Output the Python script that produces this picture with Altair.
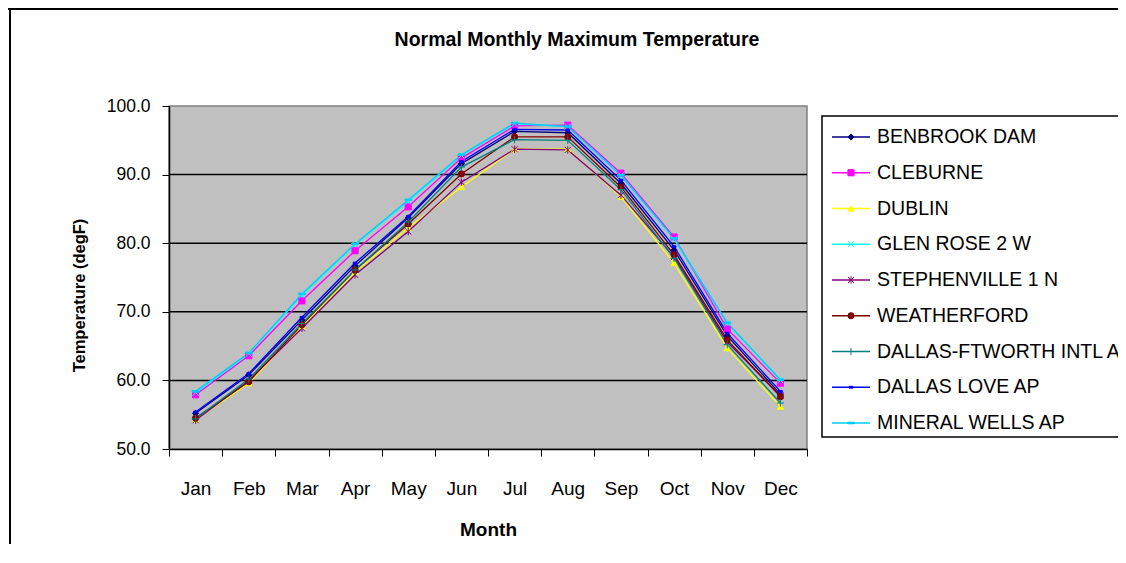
import altair as alt
import pandas as pd

TITLE = "Normal Monthly Maximum Temperature"
months = ["Jan", "Feb", "Mar", "Apr", "May", "Jun", "Jul", "Aug", "Sep", "Oct", "Nov", "Dec"]
stations = [
    "BENBROOK DAM", "CLEBURNE", "DUBLIN", "GLEN ROSE 2 W", "STEPHENVILLE 1 N",
    "WEATHERFORD", "DALLAS-FTWORTH INTL AP", "DALLAS LOVE AP", "MINERAL WELLS AP",
]
benbrook = [55.2, 60.8, 68.8, 76.7, 83.7, 91.6, 96.3, 96.1, 88.7, 79.0, 66.5, 58.0]
cleburne = [57.9, 63.6, 71.6, 78.9, 85.3, 92.4, 97.1, 97.2, 90.2, 80.9, 67.5, 59.6]
dublin = [54.3, 59.6, 67.9, 75.8, 82.2, 88.2, 93.7, 93.7, 86.8, 77.1, 64.7, 56.2]
glen_rose = [58.2, 63.9, 72.4, 79.8, 86.1, 92.8, 97.4, 97.0, 89.9, 80.6, 68.3, 60.0]
stephenville = [54.2, 60.0, 67.6, 75.4, 81.7, 88.9, 93.7, 93.6, 87.0, 78.0, 65.6, 57.8]
weatherford = [54.5, 59.8, 68.1, 76.1, 82.8, 90.1, 95.5, 95.5, 88.2, 78.3, 65.9, 57.6]
dfw = [54.4, 60.2, 68.3, 76.1, 83.1, 91.1, 95.1, 95.0, 87.8, 77.8, 65.2, 56.7]
love = [55.4, 61.0, 69.2, 77.1, 83.9, 91.9, 96.6, 96.5, 89.2, 79.5, 66.9, 58.4]
mineral_wells = [58.4, 64.0, 72.6, 79.9, 86.3, 92.9, 97.5, 97.0, 89.9, 80.7, 68.4, 60.1]
series = [benbrook, cleburne, dublin, glen_rose, stephenville, weatherford, dfw, love, mineral_wells]
colors = ["#000080", "#FF00FF", "#FFFF00", "#00FFFF", "#800080", "#800000", "#008080", "#0000FF", "#00CCFF"]
shapes = [
    "diamond", "square", "triangle-up",
    "M-1,-1L1,1M-1,1L1,-1",
    "M-1,-1L1,1M-1,1L1,-1M0,-1.2L0,1.2",
    "circle",
    "M-1.2,0L1.2,0M0,-1.2L0,1.2",
    "M-0.6,-0.3H0.6V0.3H-0.6Z",
    "M-1.1,-0.25H1.1V0.25H-1.1Z",
]
y_ticks = [50, 60, 70, 80, 90, 100]
grid_vals = [60, 70, 80, 90]

rows = []
for s, vals in zip(stations, series):
    for m, v in zip(months, vals):
        rows.append({"station": s, "month": m, "value": v})
df = pd.DataFrame(rows)
leg_df = pd.DataFrame({"station": stations})
grid_df = pd.DataFrame({"value": grid_vals})
one = pd.DataFrame({"t": [TITLE]})

FONT = "Liberation Sans"
ydom = alt.Scale(domain=[50, 100], nice=False, zero=False)
yaxis = alt.Axis(
    values=y_ticks, format=".1f", title="Temperature (degF)", labelFontSize=17.5,
    labelPadding=12, tickSize=7, tickColor="black", domainColor="black", domainWidth=1.5,
    titleFontSize=16.5, titleFontWeight="bold", titlePadding=19, titleY=189, grid=False,
    labelColor="black", titleColor="black",
)
xaxis = alt.Axis(
    title="Month", tickBand="extent", labelAngle=0, labelFontSize=19, labelPadding=23,
    tickSize=7, tickColor="black", domainColor="black", domainWidth=1.5,
    titleFontSize=19, titleFontWeight="bold", titlePadding=22, labelColor="black",
    titleColor="black", grid=False,
)
xscale = alt.Scale(type="band", paddingInner=0, paddingOuter=0)
stroke_enc = alt.Stroke("station:N", scale=alt.Scale(domain=stations, range=colors), legend=None)
fill_enc = alt.Fill("station:N", scale=alt.Scale(domain=stations, range=colors), legend=None)
shape_enc = alt.Shape("station:N", scale=alt.Scale(domain=stations, range=shapes), legend=None)

lines = alt.Chart(df).mark_line(strokeWidth=1.3).encode(
    x=alt.X("month:N", sort=months, bandPosition=0.5, scale=xscale, axis=xaxis),
    y=alt.Y("value:Q", scale=ydom, axis=yaxis),
    stroke=stroke_enc,
    detail="station:N",
)
grid = alt.Chart(grid_df).mark_rule(color="black", strokeWidth=1.5).encode(
    y=alt.Y("value:Q", scale=ydom, axis=yaxis)
)
points = alt.Chart(df).mark_point(filled=True, size=38, strokeWidth=1, opacity=1).encode(
    x=alt.X("month:N", sort=months, bandPosition=0.5, scale=xscale, axis=xaxis),
    y=alt.Y("value:Q", scale=ydom, axis=yaxis),
    stroke=stroke_enc, fill=fill_enc, shape=shape_enc,
)
main = alt.layer(grid, lines, points)

ly = alt.Y("station:N", sort=stations, scale=alt.Scale(type="point", range=[31, 317], padding=0), axis=None)
box = alt.Chart(one).mark_rect(fill="white", stroke="black", strokeWidth=1.5).encode(
    x=alt.value(653), x2=alt.value(1000), y=alt.value(10), y2=alt.value(331)
)
leg_lines = alt.Chart(leg_df).mark_rule(strokeWidth=1.3).encode(
    x=alt.value(663), x2=alt.value(701), y=ly, stroke=stroke_enc
)
leg_pts = alt.Chart(leg_df).mark_point(filled=True, size=38, strokeWidth=1, opacity=1).encode(
    x=alt.value(682), y=ly, stroke=stroke_enc, fill=fill_enc, shape=shape_enc
)
leg_txt = alt.Chart(leg_df).mark_text(align="left", baseline="middle", fontSize=19.5, font=FONT, color="black").encode(
    x=alt.value(708), y=ly, text="station:N"
)
title = alt.Chart(one).mark_text(fontSize=19.5, fontWeight="bold", font=FONT, color="black").encode(
    x=alt.value(408), y=alt.value(-66), text="t:N"
)
border_left = alt.Chart(one).mark_rule(color="black", strokeWidth=2).encode(
    x=alt.value(-159), y=alt.value(-98), y2=alt.value(460)
)
border_top = alt.Chart(one).mark_rule(color="black", strokeWidth=2).encode(
    x=alt.value(-161), x2=alt.value(1000), y=alt.value(-97)
)
legend = alt.layer(box, leg_lines, leg_pts, leg_txt, title, border_left, border_top)

chart = alt.layer(main, legend).resolve_scale(y="independent").properties(
    width=638, height=343,
    autosize=alt.AutoSizeParams(type="none"),
    padding={"left": 161, "top": 98, "right": 311, "bottom": 95},
    background="white",
).configure_view(fill="#C0C0C0", stroke="#808080", strokeWidth=1.5).configure_axis(
    labelFont=FONT, titleFont=FONT
).configure_text(font=FONT)

chart.save("out.html", embed_options={"renderer": "svg", "actions": False})
